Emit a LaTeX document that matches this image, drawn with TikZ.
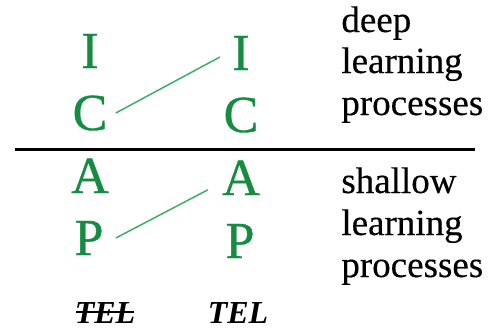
\documentclass[tikz,border=0pt]{standalone}
\usepackage{fontspec}
\setmainfont{Liberation Serif}
\newfontfamily\letterfont[FakeBold=0.7]{Liberation Serif}
\newfontfamily\labelfont[FakeBold=0.3]{Liberation Serif}
\definecolor{icapgreen}{HTML}{168B42}
\definecolor{linkgreen}{HTML}{3DAE68}
\begin{document}
\begin{tikzpicture}[x=0.5pt,y=-0.5pt,
  letter/.style={text=icapgreen,font=\letterfont\fontsize{26}{26}\selectfont,inner sep=0pt,anchor=base},
  label/.style={font=\labelfont\fontsize{18.5}{20}\selectfont,inner sep=0pt,anchor=base west},
  tel/.style={font=\fontsize{16}{16}\selectfont\bfseries\itshape,inner sep=0pt,anchor=base},
  link/.style={draw=linkgreen,line width=0.75pt}]
\useasboundingbox (0,0) rectangle (488,328);
% ICAP letters, two columns
\node[letter] (il) at (90,68) {I};
\node[letter] (cl) at (90,130) {C};
\node[letter] (al) at (90,193) {A};
\node[letter] (pl) at (89,255) {P};
\node[letter] (ir) at (241,70) {I};
\node[letter] (cr) at (241,132) {C};
\node[letter] (ar) at (241,195) {A};
\node[letter] (pr) at (240,258) {P};
% links between the columns
\draw[link] ([xshift=4pt]cl.east) -- ([xshift=-6pt,yshift=-2pt]ir.west);
\draw[link] ([xshift=6pt]pl.east) -- ([xshift=-7pt,yshift=-6pt]ar.west);
% separating rule
\coordinate (ruleL) at (15,149);
\coordinate (ruleR) at (475,149);
\draw[line width=1.5pt] (ruleL) -- (ruleR);
% process labels
\node[label] (d1) at (341,32) {deep};
\node[label] (d2) at (341,73) {learning};
\node[label] (d3) at (341,115) {processes};
\node[label] (s1) at (341,193) {shallow};
\node[label] (s2) at (341,235) {learning};
\node[label] (s3) at (341,277) {processes};
% TEL markers
\node[tel] (telno) at (105,323) {TEL};
\draw[line width=0.9pt] ([xshift=1pt,yshift=5.5pt]telno.base west) -- ([xshift=-1pt,yshift=5.5pt]telno.base east);
\node[tel] (telyes) at (238,323) {TEL};
\end{tikzpicture}
\end{document}
